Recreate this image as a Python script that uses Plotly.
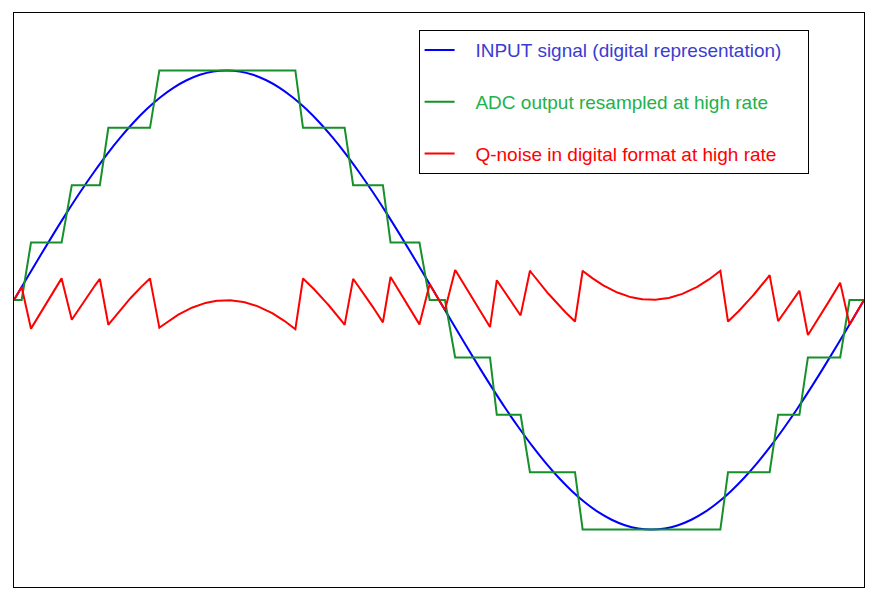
import numpy as np
import plotly.graph_objects as go

# quarter period of the input sine (amplitude in quantization steps), 17 samples 0..pi/2
quarter = [0.0, 0.392, 0.780, 1.161, 1.531, 1.886, 2.222, 2.538, 2.828,
           3.092, 3.326, 3.528, 3.696, 3.828, 3.923, 3.981, 4.0]
half = quarter + quarter[-2::-1]
input_vals = half + [-v for v in half[1:]]
input_x = np.linspace(0, 1, len(input_vals))

# ADC output staircase: corner positions (fraction of period) and levels
adc_x = [0.000, 0.009, 0.020, 0.056, 0.068, 0.101, 0.111, 0.160, 0.171,
         0.331, 0.340, 0.389, 0.399, 0.434, 0.443, 0.477, 0.489, 0.507, 0.519,
         0.560, 0.568, 0.596, 0.607, 0.660, 0.669, 0.831, 0.840, 0.889, 0.899,
         0.924, 0.934, 0.972, 0.983, 1.000]
adc_y = [0, 0, 1, 1, 2, 2, 3, 3, 4,
         4, 3, 3, 2, 2, 1, 1, 0, 0, -1,
         -1, -2, -2, -3, -3, -4, -4, -3, -3, -2,
         -2, -1, -1, 0, 0]

names = ["INPUT signal (digital representation)",
         "ADC output resampled at high rate",
         "Q-noise in digital format at high rate"]

grid = np.union1d(np.linspace(0, 1, 801), adc_x)
noise = np.interp(grid, input_x, input_vals) - np.interp(grid, adc_x, adc_y)

pad = "&nbsp;" * 3
tail = "&nbsp;" * 4

fig = go.Figure()
fig.add_trace(go.Scatter(x=input_x, y=input_vals, mode="lines",
                         line=dict(color="#0000ff", width=2, shape="spline"),
                         name=pad + "<span style='color:#3c3cd0'>%s</span>" % names[0] + tail,
                         legendgroup="a"))
fig.add_trace(go.Scatter(x=adc_x, y=adc_y, mode="lines",
                         line=dict(color="#15902a", width=2),
                         name=pad + "<span style='color:#22b14c'>%s</span>" % names[1],
                         legendgroup="b"))
fig.add_trace(go.Scatter(x=grid, y=noise, mode="lines",
                         line=dict(color="#ff0000", width=2),
                         name=pad + "<span style='color:#ff0000'>%s</span>" % names[2],
                         legendgroup="c"))

fig.update_layout(
    width=874, height=599,
    margin=dict(l=6, r=18, t=5, b=20),
    plot_bgcolor="white", paper_bgcolor="white",
    font=dict(family="Liberation Sans, Arial", size=19),
    legend=dict(x=0.476, y=0.970, xanchor="left", yanchor="top",
                bgcolor="white", bordercolor="black", borderwidth=1,
                tracegroupgap=24, font=dict(size=19)),
)
fig.update_xaxes(range=[0, 1], showticklabels=False, showgrid=False, zeroline=False,
                 showline=True, linecolor="black", mirror=True, linewidth=1)
fig.update_yaxes(range=[-5, 5], showticklabels=False, showgrid=False, zeroline=False,
                 showline=True, linecolor="black", mirror=True, linewidth=1)

fig.write_html("out.html")
